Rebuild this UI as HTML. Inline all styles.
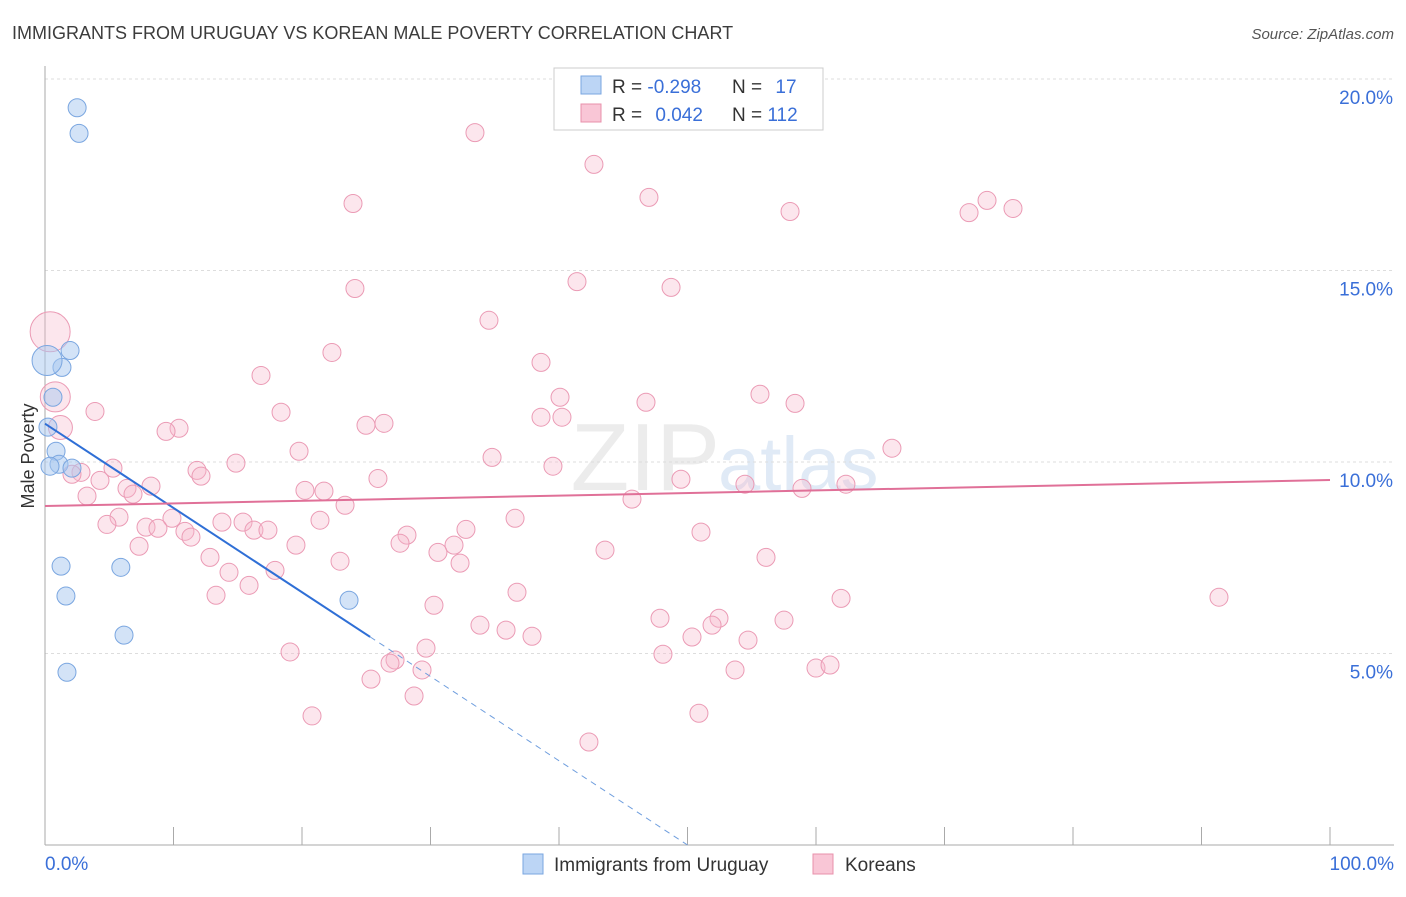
<!DOCTYPE html>
<html><head><meta charset="utf-8">
<style>
body{margin:0;background:#fff;font-family:"Liberation Sans",sans-serif;}
svg text{font-family:"Liberation Sans",sans-serif;}
</style></head>
<body>
<svg id="chart" width="1406" height="892" xmlns="http://www.w3.org/2000/svg">
<text x="12" y="39" font-size="18" fill="#3c3c3c">IMMIGRANTS FROM URUGUAY VS KOREAN MALE POVERTY CORRELATION CHART</text>
<text x="1394" y="39" font-size="15" fill="#555" text-anchor="end" font-style="italic">Source: ZipAtlas.com</text>
<text x="720" y="490" font-size="96" fill="#ececec" text-anchor="end" font-family="Liberation Serif">ZIP</text>
<text x="718" y="490" font-size="76" fill="#e0eaf6">atlas</text>
<g id="grid"></g>
<g id="axes"></g>
<g id="pts"></g>
<g id="lines"></g>
<text transform="translate(34,456) rotate(-90)" font-size="18" fill="#333" text-anchor="middle">Male Poverty</text>
<g>
<rect x="554" y="68" width="269" height="62" fill="#fff" stroke="#ccc"/>
<rect x="581" y="76" width="20" height="18" fill="#bcd5f5" stroke="#7aa6e0"/>
<rect x="581" y="104" width="20" height="18" fill="#f9c6d6" stroke="#e890ab"/>
<text x="612" y="93" font-size="19" fill="#333">R = <tspan fill="#3a6fd8">-0.298</tspan></text>
<text x="732" y="93" font-size="19" fill="#333">N = <tspan fill="#3a6fd8" dx="8">17</tspan></text>
<text x="612" y="121" font-size="19" fill="#333">R = <tspan fill="#3a6fd8" dx="8">0.042</tspan></text>
<text x="732" y="121" font-size="19" fill="#333">N = <tspan fill="#3a6fd8">112</tspan></text>
</g>
<g>
<rect x="523" y="854" width="20" height="20" fill="#bcd5f5" stroke="#7aa6e0"/>
<text x="554" y="871" font-size="19" fill="#333">Immigrants from Uruguay</text>
<rect x="813" y="854" width="20" height="20" fill="#f9c6d6" stroke="#e890ab"/>
<text x="845" y="871" font-size="19" fill="#333">Koreans</text>
</g>
</svg>
<script>
const yTicks=[5,10,15,20];
const yTickLabels=["5.0%","10.0%","15.0%","20.0%"];
const xTickLabels=["0.0%","100.0%"];
const blueX=[2.5,2.65,1.95,1.32,0.16,0.62,0.23,0.86,1.09,2.1,0.39,1.25,5.9,1.63,23.66,6.15,1.71];
const blueY=[19.25,18.58,12.91,12.47,12.65,11.69,10.91,10.28,9.94,9.84,9.89,7.28,7.25,6.5,6.39,5.48,4.51];
const blueR=[9,9,9,9,15,9,9,9,9,9,9,9,9,9,9,9,9];
const pinkPx=[[475,132],[594,164],[649,197],[353,203],[790,211],[969,212],[987,200],[1013,208],[577,281],[671,287],[355,288],[489,320],[332,352],[541,362],[261,375],[760,394],[560,397],[646,402],[795,403],[95,411],[281,412],[541,417],[562,417],[366,425],[384,423],[179,428],[166,431],[892,448],[299,451],[492,457],[236,463],[553,466],[113,468],[197,470],[81,472],[72,474],[201,476],[378,478],[681,479],[100,480],[745,484],[846,484],[802,488],[151,486],[127,488],[305,490],[324,491],[133,494],[87,496],[632,499],[345,505],[119,517],[515,518],[320,520],[172,518],[222,522],[243,522],[107,524],[146,527],[158,528],[185,531],[254,530],[268,530],[466,529],[191,537],[701,532],[407,535],[296,545],[400,543],[139,546],[454,545],[605,550],[438,552],[210,557],[766,557],[340,561],[460,563],[229,572],[275,570],[249,585],[517,592],[216,595],[841,598],[1219,597],[434,605],[660,618],[719,618],[784,620],[480,625],[712,625],[506,630],[532,636],[692,637],[748,640],[426,648],[290,652],[663,654],[395,660],[390,663],[422,670],[735,670],[816,668],[830,665],[371,679],[414,696],[312,716],[699,713],[589,742]];
const pinkX=pinkPx.map(p=>+((p[0]-45)/12.85).toFixed(2)).concat([0.4,0.8,1.2]);
const pinkY=pinkPx.map(p=>+((845-p[1])/38.33).toFixed(2)).concat([13.4,11.7,10.9]);
const pinkR=pinkPx.map(()=>9).concat([20,15,12]);

const X0=45,X1=1330,Y0=845,Y20=79;
const sx=v=>X0+(X1-X0)*v/100;
const sy=v=>Y0-(Y0-Y20)*v/20;
const NS="http://www.w3.org/2000/svg";
function mk(tag,attrs,parent){const e=document.createElementNS(NS,tag);for(const k in attrs)e.setAttribute(k,attrs[k]);document.getElementById(parent).appendChild(e);return e;}

yTicks.forEach((t,i)=>{
 const l=mk('line',{x1:X0,x2:1394,y1:sy(t),y2:sy(t),stroke:'#ddd','stroke-dasharray':'3,3'},'grid');
 
 
 const tx=mk('text',{x:1393,y:sy(t)+25,'font-size':19,fill:'#3a6fd8','text-anchor':'end'},'axes');
 tx.textContent=yTickLabels[i];
 
 
});
const ax=mk('line',{x1:X0,x2:X0,y1:66,y2:Y0,stroke:'#aaa'},'axes');


const bx=mk('line',{x1:X0,x2:1394,y1:Y0,y2:Y0,stroke:'#aaa'},'axes');


for(let i=0;i<=10;i++){
 const t=mk('line',{x1:sx(i*10),x2:sx(i*10),y1:Y0,y2:Y0-18,stroke:'#aaa'},'axes');
 
 
}
[[0,'start',45],[100,'end',1394]].forEach((a,i)=>{
 const t=mk('text',{x:a[2],y:870,'font-size':19,fill:'#3a6fd8','text-anchor':a[1]},'axes');
 t.textContent=xTickLabels[i];
 
 
});
pinkX.forEach((x,i)=>{
 const c=mk('circle',{cx:sx(x),cy:sy(pinkY[i]),r:pinkR[i],fill:'#f5b8cb','fill-opacity':0.35,stroke:'#eb9bb5','stroke-width':1},'pts');
 
 
});
blueX.forEach((x,i)=>{
 const c=mk('circle',{cx:sx(x),cy:sy(blueY[i]),r:blueR[i],fill:'#a8c8f0','fill-opacity':0.5,stroke:'#7aa6e0','stroke-width':1},'pts');
 
 
});
const bs=-(11.0)/50;
const bl=mk('line',{x1:sx(0),y1:sy(11.0),x2:sx(25.3),y2:sy(11.0+bs*25.3),stroke:'#2f6fd6','stroke-width':2},'lines');


const bd=mk('line',{x1:sx(25.3),y1:sy(11.0+bs*25.3),x2:sx(50),y2:sy(0),stroke:'#6f9ede','stroke-width':1,'stroke-dasharray':'6,5'},'lines');


const pl=mk('line',{x1:sx(0),y1:sy(8.85),x2:sx(100),y2:sy(9.53),stroke:'#e07098','stroke-width':2},'lines');


</script>
</body></html>
